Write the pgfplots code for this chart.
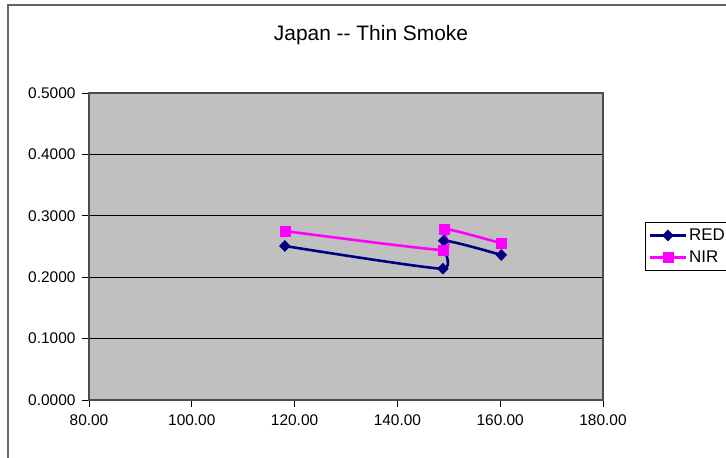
\documentclass[border=0pt]{standalone}
\usepackage{pgfplots}
\pgfplotsset{compat=1.18}
\usepackage{fontspec}
\setmainfont{Liberation Sans}
\definecolor{plotgray}{HTML}{C0C0C0}
\definecolor{rednavy}{HTML}{000080}
\definecolor{nirmag}{HTML}{FF00FF}
\begin{document}
\begin{tikzpicture}[x=1bp,y=1bp]
\path[use as bounding box] (0,0) rectangle (726,458);
\draw[gray!80!black, line width=1.2bp] (8,0) -- (8,453) -- (726,453);
\node[font=\fontsize{21}{24}\selectfont] at (371,423) {Japan {-}{-} Thin Smoke};
\begin{axis}[
  at={(89bp,58bp)}, anchor=south west,
  scale only axis, width=514bp, height=307bp,
  xmin=80, xmax=180, ymin=0, ymax=0.5,
  xtick={80,100,...,180}, ytick={0,0.1,...,0.5},
  axis background/.style={fill=plotgray},
  axis line style={draw=gray!60!black, line width=1.2bp},
  ymajorgrids, grid style={black, line width=0.8bp},
  tick align=outside, major tick length=7bp,
  tick style={black, line width=0.8bp},
  xtick pos=bottom, ytick pos=left,
  /pgf/number format/assume math mode=true,
  tick label style={font=\fontsize{15.5}{18}\selectfont},
  xticklabel={\pgfmathprintnumber[fixed,fixed zerofill,precision=2]{\tick}},
  yticklabel={\pgfmathprintnumber[fixed,fixed zerofill,precision=4]{\tick}},
  xticklabel style={yshift=-4bp},
  yticklabel style={xshift=-3bp},
  legend style={at={(1.082,0.5)}, anchor=west, draw=black, line width=0.8bp,
    font=\fontsize{17}{20}\selectfont, row sep=5bp, inner xsep=3bp, inner ysep=4bp},
  legend cell align=left,
  legend image code/.code={
    \draw[#1] (0bp,0bp) -- (36bp,0bp);
    \draw[#1] plot coordinates {(18bp,0bp)};
  },
]
\addplot[rednavy, line width=2.6bp, smooth, tension=0.3, mark=diamond*, mark size=5.5bp, mark options={fill=rednavy, draw=rednavy, line width=0.5bp, xscale=1.3}]
  coordinates {(118.1,0.2508) (148.85,0.2138) (149.0,0.2594) (160.2,0.2362)};
\addlegendentry{RED}
\addplot[nirmag, line width=2.6bp, smooth, tension=0.3, mark=square*, mark size=5bp, mark options={fill=nirmag, draw=nirmag, line width=0.5bp}]
  coordinates {(118.1,0.2752) (148.85,0.2443) (149.2,0.2785) (160.2,0.2552)};
\addlegendentry{NIR}
\end{axis}
\end{tikzpicture}
\end{document}
